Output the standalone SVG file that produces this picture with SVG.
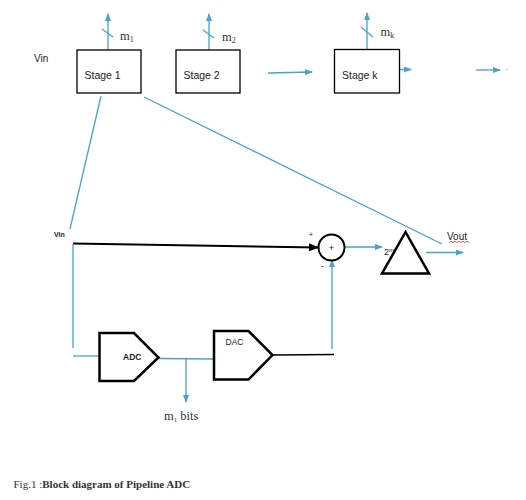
<svg xmlns="http://www.w3.org/2000/svg" width="526" height="500" viewBox="0 0 526 500">
<defs>
<marker id="ab" markerWidth="8" markerHeight="6" refX="7" refY="3" orient="auto" markerUnits="userSpaceOnUse"><path d="M0,0 L8,3 L0,6 Z" fill="#4aa3c8"/></marker>
<marker id="ak" markerWidth="10" markerHeight="8" refX="9" refY="4" orient="auto" markerUnits="userSpaceOnUse"><path d="M0,0 L10,4 L0,8 Z" fill="#000"/></marker>
<style>
.b{stroke:#4aa3c8;stroke-width:1.3;fill:none}
.box{fill:#fff;stroke:#000;stroke-width:1.3}
.blk{fill:#fff;stroke:#000;stroke-width:2.5;stroke-linejoin:miter}
.s{font-family:"Liberation Sans",Arial,sans-serif;fill:#222}
.ser{font-family:"Liberation Serif","Times New Roman",serif;fill:#333}
</style>
</defs>
<rect width="526" height="500" fill="#fff"/>
<g id="connectors">
<line class="b" x1="108" y1="50" x2="108" y2="14" marker-end="url(#ab)"/>
<line class="b" x1="102" y1="29" x2="113" y2="37"/>
<line class="b" x1="209" y1="50" x2="209" y2="14" marker-end="url(#ab)"/>
<line class="b" x1="203" y1="30" x2="214" y2="38"/>
<line class="b" x1="367" y1="49" x2="367" y2="13" marker-end="url(#ab)"/>
<line class="b" x1="361" y1="27" x2="373" y2="37"/>
<line class="b" x1="268" y1="73" x2="312" y2="72" marker-end="url(#ab)"/>
<line class="b" x1="377" y1="69.5" x2="411" y2="69.5" marker-end="url(#ab)"/>
<line class="b" x1="476" y1="70" x2="500" y2="70" marker-end="url(#ab)"/>
<circle cx="507" cy="69.5" r="0.6" fill="#4aa3c8"/>
<line class="b" x1="101" y1="96" x2="70" y2="229"/>
<line class="b" x1="144" y1="97" x2="442" y2="244"/>
<line x1="73" y1="243.5" x2="318" y2="247.5" stroke="#000" stroke-width="2" marker-end="url(#ak)"/>
<line class="b" x1="73" y1="244" x2="73" y2="348"/>
<line class="b" x1="73" y1="356" x2="100" y2="356"/>
<line class="b" x1="345" y1="247" x2="382" y2="247" marker-end="url(#ab)"/>
<line class="b" x1="426" y1="252.5" x2="463" y2="252.5" marker-end="url(#ab)"/>
<line class="b" x1="332" y1="349" x2="332" y2="260" marker-end="url(#ab)"/>
<line class="b" x1="158" y1="358.5" x2="214" y2="359"/>
<line class="b" x1="186" y1="359" x2="186" y2="402" marker-end="url(#ab)"/>
<line x1="273" y1="355" x2="334" y2="354.5" stroke="#000" stroke-width="1.3"/>
<path d="M449,242.5 l2,-1.2 l2,1.2 l2,-1.2 l2,1.2 l2,-1.2 l2,1.2 l2,-1.2 l2,1.2 l2,-1.2 l2,1.2" stroke="#e03030" stroke-width="0.8" fill="none"/>
</g>
<g id="stage1">
<rect class="box" x="77" y="50" width="64" height="43"/>
<text class="s" x="84.5" y="79" font-size="10.5">Stage 1</text>
<text class="ser" x="120" y="40" font-size="12.5">m<tspan font-size="8" dy="2">1</tspan></text>
</g>
<g id="stage2">
<rect class="box" x="176" y="50" width="64" height="43"/>
<text class="s" x="183.5" y="79" font-size="10.5">Stage 2</text>
<text class="ser" x="222" y="41" font-size="12.5">m<tspan font-size="8" dy="2">2</tspan></text>
</g>
<g id="stagek">
<rect class="box" x="334.5" y="49.5" width="65" height="43.5"/>
<text class="s" x="342" y="79" font-size="10.5">Stage k</text>
<text class="ser" x="380.5" y="36" font-size="12.5">m<tspan font-size="8" dy="2">k</tspan></text>
</g>
<g id="vin-top"><text class="s" x="34" y="62" font-size="10">Vin</text></g>
<g id="vin"><text class="s" x="54" y="237" font-size="7" font-weight="bold">Vin</text></g>
<g id="sum">
<circle cx="331.5" cy="247.5" r="13" fill="#fff" stroke="#000" stroke-width="2"/>
<text class="s" x="331.5" y="251" font-size="9" text-anchor="middle">+</text>
<text class="s" x="311" y="237" font-size="7.5" text-anchor="middle">+</text>
<text class="s" x="322.5" y="269" font-size="8.5" text-anchor="middle">-</text>
</g>
<g id="amp">
<text class="s" x="384" y="255" font-size="9" fill="#666">2<tspan font-size="6" dy="-3">m</tspan></text>
<polygon class="blk" points="405.5,232 382,273.5 429,273.5"/>
</g>
<g id="vout"><text class="s" x="447" y="240" font-size="10">Vout</text></g>
<g id="adc">
<polygon class="blk" points="99.5,333 134,333 158.5,357.5 134,381 99.5,381"/>
<text class="s" x="123" y="360" font-size="8.5" font-weight="bold" fill="#1a2a4a">ADC</text>
</g>
<g id="dac">
<polygon class="blk" points="214,331 248.5,331 272.5,355 248.5,379.5 214,379.5"/>
<text class="s" x="225.5" y="345" font-size="8.5" fill="#1a2a4a">DAC</text>
</g>
<g id="bits"><text class="ser" x="164" y="420" font-size="12.5">m<tspan font-size="7" dy="2">1</tspan><tspan dy="-2"> bits</tspan></text></g>
<g id="caption"><text class="ser" x="13.5" y="488" font-size="11" fill="#1a1a2a">Fig.1 :<tspan font-weight="bold">Block diagram of Pipeline ADC</tspan></text></g>
</svg>
